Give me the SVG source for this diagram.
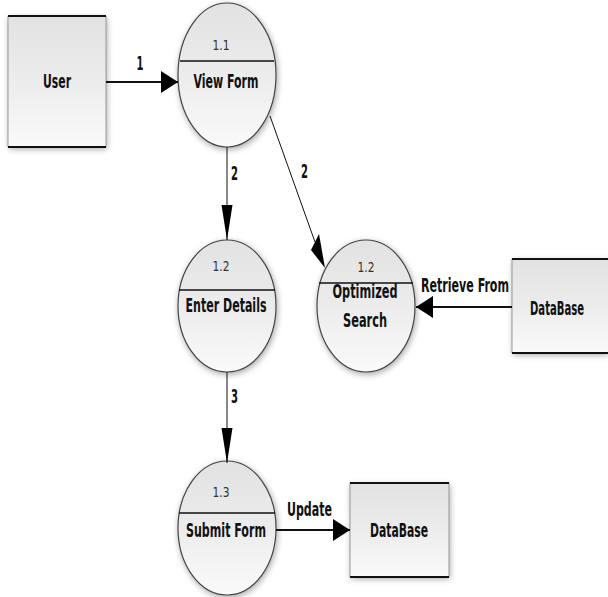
<svg xmlns="http://www.w3.org/2000/svg" width="608" height="597" viewBox="0 0 608 597">
<defs>
<linearGradient id="g" x1="0" y1="0" x2="0" y2="1">
<stop offset="0" stop-color="#e2e2e2"/>
<stop offset="0.5" stop-color="#ececec"/>
<stop offset="1" stop-color="#fafafa"/>
</linearGradient>
<filter id="sh" x="-20%" y="-20%" width="140%" height="140%">
<feGaussianBlur in="SourceAlpha" stdDeviation="3"/>
<feOffset dx="1" dy="2"/>
<feComponentTransfer><feFuncA type="linear" slope="0.35"/></feComponentTransfer>
<feMerge><feMergeNode/><feMergeNode in="SourceGraphic"/></feMerge>
</filter>
<marker id="ahH" markerWidth="18" markerHeight="22" refX="17" refY="11" orient="auto" markerUnits="userSpaceOnUse">
<path d="M0,0 L17,11 L0,22 Z" fill="#000"/>
</marker>
<marker id="ahV" markerWidth="36" markerHeight="12" refX="35" refY="6" orient="auto" markerUnits="userSpaceOnUse">
<path d="M0,0.5 L35,6 L0,11.5 Z" fill="#000"/>
</marker>
</defs>
<style>
.proc{fill:url(#g);stroke:#444;stroke-width:1.2;filter:url(#sh)}
.box{fill:url(#g);stroke:none;filter:url(#sh)}
.side{stroke:#999;stroke-width:1}
.edge{stroke:#111;stroke-width:2}
.div{stroke:#111;stroke-width:1.5}
.t{font-family:"DejaVu Sans Condensed","DejaVu Sans",sans-serif;font-weight:bold;font-size:19px;fill:#111;text-anchor:middle}
.n{font-family:"DejaVu Sans Condensed","DejaVu Sans",sans-serif;font-size:14px;fill:#333;text-anchor:middle}
.c{stroke:#111;fill:none}
</style>
<g id="user">
<rect class="box" x="8" y="16" width="98" height="131"/>
<line class="side" x1="8" y1="16" x2="8" y2="147"/>
<line class="side" x1="106" y1="16" x2="106" y2="147"/>
<line class="edge" x1="8" y1="16" x2="106" y2="16"/>
<line class="edge" x1="8" y1="147" x2="106" y2="147"/>
<text class="t" x="57" y="88" textLength="28" lengthAdjust="spacingAndGlyphs">User</text>
</g>
<g id="p11">
<ellipse class="proc" cx="227" cy="75" rx="49" ry="72"/>
<line class="div" x1="180" y1="61" x2="274" y2="61"/>
<text class="n" x="221" y="50" textLength="17" lengthAdjust="spacingAndGlyphs">1.1</text>
<text class="t" x="226" y="88" textLength="65" lengthAdjust="spacingAndGlyphs">View Form</text>
</g>
<g id="p12">
<ellipse class="proc" cx="227" cy="306" rx="49" ry="66"/>
<line class="div" x1="179" y1="290" x2="275" y2="290"/>
<text class="n" x="221" y="271" textLength="17" lengthAdjust="spacingAndGlyphs">1.2</text>
<text class="t" x="226" y="312" textLength="81" lengthAdjust="spacingAndGlyphs">Enter Details</text>
</g>
<g id="p12b">
<ellipse class="proc" cx="366" cy="306" rx="49" ry="66"/>
<line class="div" x1="319" y1="283" x2="413" y2="283"/>
<text class="n" x="366" y="272" textLength="17" lengthAdjust="spacingAndGlyphs">1.2</text>
<text class="t" x="365" y="298" textLength="65" lengthAdjust="spacingAndGlyphs">Optimized</text>
<text class="t" x="365" y="327" textLength="44" lengthAdjust="spacingAndGlyphs">Search</text>
</g>
<g id="db1">
<rect class="box" x="512" y="259" width="96" height="94"/>
<line class="side" x1="512" y1="259" x2="512" y2="353"/>
<line class="edge" x1="512" y1="259" x2="608" y2="259"/>
<line class="edge" x1="512" y1="353" x2="608" y2="353"/>
<text class="t" x="557" y="315" textLength="54" lengthAdjust="spacingAndGlyphs">DataBase</text>
</g>
<g id="p13">
<ellipse class="proc" cx="227" cy="528" rx="49" ry="67"/>
<line class="div" x1="179" y1="513" x2="275" y2="513"/>
<text class="n" x="221" y="497" textLength="17" lengthAdjust="spacingAndGlyphs">1.3</text>
<text class="t" x="226" y="537" textLength="80" lengthAdjust="spacingAndGlyphs">Submit Form</text>
</g>
<g id="db2">
<rect class="box" x="350" y="483" width="99" height="94"/>
<line class="side" x1="350" y1="483" x2="350" y2="577"/>
<line class="side" x1="449" y1="483" x2="449" y2="577"/>
<line class="edge" x1="350" y1="483" x2="449" y2="483"/>
<line class="edge" x1="350" y1="577" x2="449" y2="577"/>
<text class="t" x="399" y="537" textLength="58" lengthAdjust="spacingAndGlyphs">DataBase</text>
</g>
<g id="connectors">
<line class="c" stroke-width="2" x1="106" y1="82" x2="178" y2="82" marker-end="url(#ahH)"/>
<text class="t" x="140" y="70" textLength="7" lengthAdjust="spacingAndGlyphs">1</text>
<line class="c" stroke-width="1" x1="227" y1="147" x2="227" y2="240" marker-end="url(#ahV)"/>
<text class="t" x="234.5" y="180" textLength="7" lengthAdjust="spacingAndGlyphs">2</text>
<line class="c" stroke-width="1" x1="270" y1="116" x2="315" y2="242"/>
<path d="M311,250 L325,268 L319,234 Z" fill="#000"/>
<text class="t" x="304.5" y="178" textLength="7" lengthAdjust="spacingAndGlyphs">2</text>
<line class="c" stroke-width="2" x1="512" y1="307" x2="416" y2="307" marker-end="url(#ahH)"/>
<text class="t" x="465" y="292" textLength="88" lengthAdjust="spacingAndGlyphs">Retrieve From</text>
<line class="c" stroke-width="1" x1="227" y1="372" x2="227" y2="463" marker-end="url(#ahV)"/>
<text class="t" x="234.5" y="403" textLength="7" lengthAdjust="spacingAndGlyphs">3</text>
<line class="c" stroke-width="2" x1="276" y1="530" x2="350" y2="530" marker-end="url(#ahH)"/>
<text class="t" x="309.5" y="516" textLength="45" lengthAdjust="spacingAndGlyphs">Update</text>
</g>
</svg>
